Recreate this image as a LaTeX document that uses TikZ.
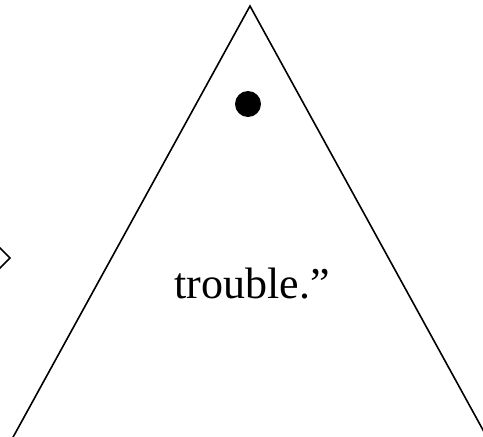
\documentclass[tikz,border=0pt]{standalone}
\usepackage{fontspec}
\setmainfont{Liberation Serif}
\usetikzlibrary{positioning}

\begin{document}
\begin{tikzpicture}[x=1pt, y=-1pt, line width=1.6pt,
  outline/.style={draw=black, line join=miter},
  word/.style={font=\fontsize{44}{50}\selectfont, inner sep=0pt}]
\useasboundingbox (0,0) rectangle (483,437);
\clip (0,0) rectangle (483,437);
% partly visible diamond on the left edge
\draw[outline] (-12,236) -- (10,258) -- (-12,280);
% triangle
\coordinate (apex) at (250,6);
\coordinate (baseL) at (6,450);
\coordinate (baseR) at (494,450);
\draw[outline] (baseL) -- (apex) -- (baseR) -- cycle;
\fill (248,104) circle (13);
\node[word, anchor=base] (quote) at (252,298) {trouble.”};
\end{tikzpicture}
\end{document}
